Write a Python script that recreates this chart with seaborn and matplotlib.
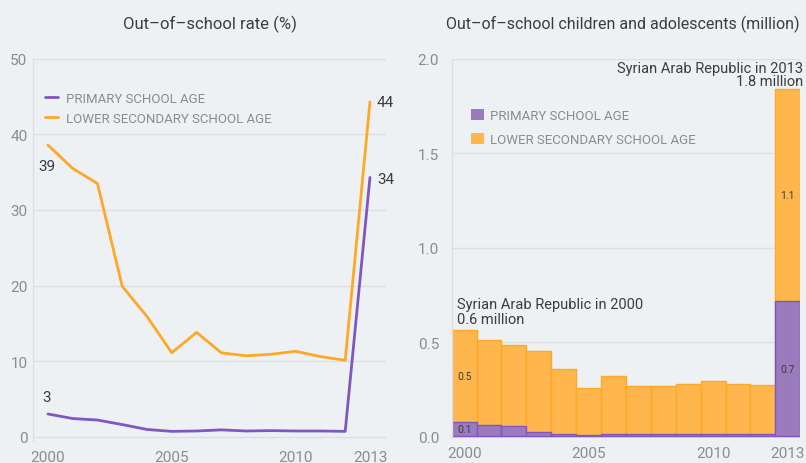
import numpy as np
import pandas as pd
import matplotlib
matplotlib.use("Agg")
import matplotlib.pyplot as plt
from matplotlib.patches import Patch
from matplotlib.lines import Line2D
import seaborn as sns

# Out-of-school data, Syrian Arab Republic
years = [2000, 2001, 2002, 2003, 2004, 2005, 2006, 2007, 2008, 2009, 2010, 2011, 2012, 2013]
rate_primary = [3.0, 2.4, 2.2, 1.6, 0.95, 0.7, 0.75, 0.9, 0.75, 0.8, 0.75, 0.75, 0.7, 34.3]
rate_lower_sec = [38.6, 35.5, 33.5, 19.9, 15.9, 11.1, 13.8, 11.1, 10.7, 10.9, 11.3, 10.6, 10.1, 44.3]
count_primary = [0.075, 0.058, 0.056, 0.023, 0.014, 0.009, 0.012, 0.014, 0.012, 0.013, 0.013, 0.013, 0.013, 0.716]
count_lower_sec = [0.487, 0.454, 0.430, 0.430, 0.345, 0.245, 0.308, 0.252, 0.254, 0.264, 0.280, 0.267, 0.258, 1.124]

series_labels = ["PRIMARY SCHOOL AGE", "LOWER SECONDARY SCHOOL AGE"]
xticks = [2000, 2005, 2010, 2013]

BG = "#eef1f3"
PURPLE = "#7e57c2"
PURPLE_BAR = "#9a7bbd"
ORANGE = "#ffa726"
ORANGE_BAR = "#ffb74d"
GRID = "#dcdfe2"
TICK = "#8a8d90"
DARK = "#3c3c3c"

sns.set_theme(style="white")
plt.rcParams["font.family"] = ["Roboto", "DejaVu Sans"]

rate_df = pd.DataFrame({
    "year": years * 2,
    "rate": rate_primary + rate_lower_sec,
    "group": [series_labels[0]] * len(years) + [series_labels[1]] * len(years),
})
count_df = pd.DataFrame({
    "year": years,
    "primary": count_primary,
    "lower_sec": count_lower_sec,
})
count_df["total"] = count_df["primary"] + count_df["lower_sec"]

fig = plt.figure(figsize=(8.06, 4.64), dpi=100, facecolor=BG)
ax1 = fig.add_axes([0.041, 0.047, 0.438, 0.824], facecolor=BG)
ax2 = fig.add_axes([0.5604, 0.054, 0.4325, 0.817], facecolor=BG)

# ---- left: rates
sns.lineplot(data=rate_df, x="year", y="rate", hue="group",
             palette=[PURPLE, ORANGE], linewidth=2, ax=ax1, legend=False)
ax1.set_xlim(1999.4, 2013.65)
ax1.set_ylim(-0.6, 50)
ax1.set_yticks([0, 10, 20, 30, 40, 50])
ax1.set_xticks(xticks)
ax1.set_xlabel("")
ax1.set_ylabel("")
ax1.set_title("Out\u2013of\u2013school rate (%)", fontsize=12, color=DARK, pad=22)
ax1.grid(axis="y", color=GRID, linewidth=1)
ax1.set_axisbelow(True)

handles1 = [Line2D([0], [0], color=PURPLE, lw=2), Line2D([0], [0], color=ORANGE, lw=2)]
ax1.legend(handles1, series_labels, loc="upper left", bbox_to_anchor=(0.0, 0.945),
           frameon=False, fontsize=9.5, labelcolor=TICK, handlelength=1.0,
           handletextpad=0.6, labelspacing=0.55)

ax1.annotate(f"{rate_lower_sec[0]:.0f}", (years[0], rate_lower_sec[0]), xytext=(-1, -15),
             textcoords="offset points", ha="center", va="center", fontsize=11, color=DARK)
ax1.annotate(f"{rate_primary[0]:.0f}", (years[0], rate_primary[0]), xytext=(-1, 12),
             textcoords="offset points", ha="center", va="center", fontsize=11, color=DARK)
ax1.annotate(f"{rate_lower_sec[-1]:.0f}", (years[-1], rate_lower_sec[-1]), xytext=(5, 0),
             textcoords="offset points", ha="left", va="center", fontsize=11, color=DARK)
ax1.annotate(f"{rate_primary[-1]:.0f}", (years[-1], rate_primary[-1]), xytext=(5, -1),
             textcoords="offset points", ha="left", va="center", fontsize=11, color=DARK)

# ---- right: counts (stacked)
sns.barplot(data=count_df, x="year", y="total", native_scale=True, width=1.0,
            color=ORANGE_BAR, edgecolor=ORANGE, linewidth=1, saturation=1, ax=ax2)
sns.barplot(data=count_df, x="year", y="primary", native_scale=True, width=1.0,
            color=PURPLE_BAR, edgecolor=PURPLE, linewidth=1, saturation=1, ax=ax2)
ax2.set_xlim(1999.5, 2013.5)
ax2.set_ylim(-0.008, 2.0)
ax2.set_yticks([0.0, 0.5, 1.0, 1.5, 2.0])
ax2.set_yticklabels([f"{v:.1f}" for v in [0.0, 0.5, 1.0, 1.5, 2.0]])
ax2.set_xticks(xticks)
ax2.set_xlabel("")
ax2.set_ylabel("")
ax2.set_title("Out\u2013of\u2013school children and adolescents (million)", fontsize=11.5,
              color=DARK, pad=22, x=0.49)
ax2.grid(axis="y", color=GRID, linewidth=1)
ax2.set_axisbelow(True)

handles2 = [Patch(facecolor=PURPLE_BAR, edgecolor="none"), Patch(facecolor=ORANGE_BAR, edgecolor="none")]
ax2.legend(handles2, series_labels, loc="upper left", bbox_to_anchor=(0.02, 0.9),
           frameon=False, fontsize=9.5, labelcolor=TICK, handlelength=1.0,
           handleheight=1.0, handletextpad=0.5, labelspacing=0.8)

for i in [0, len(years) - 1]:
    p, s = count_primary[i], count_lower_sec[i]
    ax2.text(years[i], p / 2, f"{p:.1f}", ha="center", va="center", fontsize=7.5, color=DARK)
    ax2.text(years[i], p + s / 2, f"{s:.1f}", ha="center", va="center", fontsize=7.5, color=DARK)

t0 = count_df["total"].iloc[0]
t1 = count_df["total"].iloc[-1]
ax2.annotate(f"Syrian Arab Republic in {years[0]}\n{t0:.1f} million", (years[0] - 0.5, t0),
             xytext=(4, 3), textcoords="offset points", ha="left", va="bottom",
             fontsize=10.5, color=DARK, linespacing=1.15)
ax2.annotate(f"Syrian Arab Republic in {years[-1]}\n{t1:.1f} million", (years[-1] + 0.5, t1),
             xytext=(2, 1), textcoords="offset points", ha="right", va="bottom",
             fontsize=10.5, color=DARK, linespacing=0.9)

for ax in (ax1, ax2):
    for side in ("top", "right", "bottom"):
        ax.spines[side].set_visible(False)
    ax.spines["left"].set_color(GRID)
    ax.spines["left"].set_linewidth(1)
    ax.tick_params(axis="both", length=0, labelsize=11, colors=TICK)
    ax.tick_params(axis="x", pad=6)
ax1.tick_params(axis="y", pad=4)
ax2.tick_params(axis="y", pad=9)

fig.savefig("out.png", dpi=100, facecolor=BG)
